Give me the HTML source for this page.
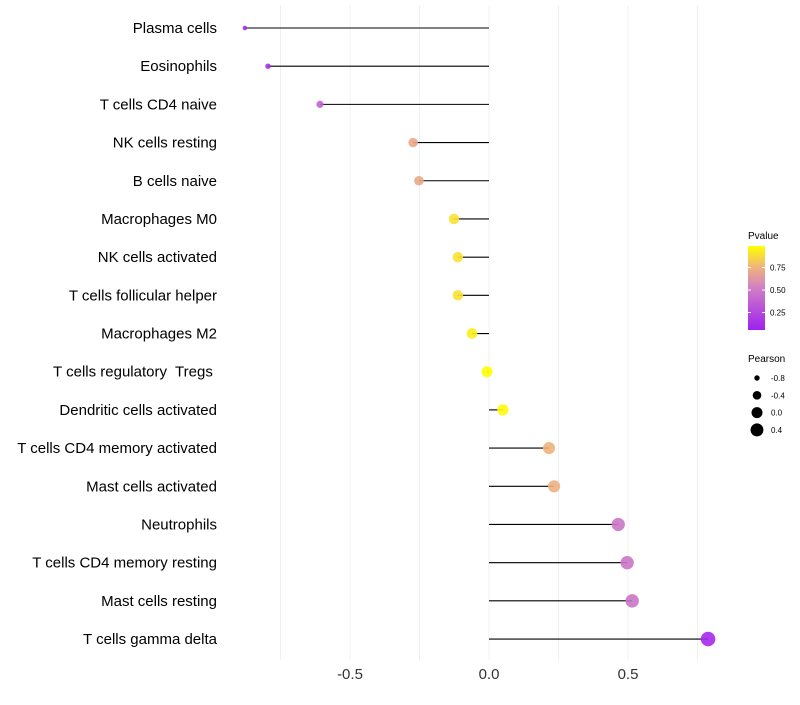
<!DOCTYPE html>
<html><head><meta charset="utf-8"><style>
body{margin:0;background:#fff;}
svg text{font-family:"Liberation Sans",sans-serif;white-space:pre;}
</style></head><body>
<svg id="chart" width="800" height="700" xmlns="http://www.w3.org/2000/svg">
<defs><linearGradient id="pg" x1="0" y1="1" x2="0" y2="0">
<stop offset="0" stop-color="#a020f0"/><stop offset="0.5" stop-color="#d07fc4"/><stop offset="0.75" stop-color="#f0b47c"/><stop offset="1" stop-color="#ffff00"/></linearGradient></defs>
<g id="grid"></g>
<g id="marks"></g>
<g id="ylabels"></g>
<g id="xlabels"></g>
<g>
<text x="748" y="239" font-size="10" fill="#000">Pvalue</text>
<rect x="748" y="246" width="17" height="84" fill="url(#pg)"/>
<g id="pticks"></g>
</g>
<g id="sizeleg">
<text x="748" y="362" font-size="10" fill="#000">Pearson</text>
</g>
</svg>
<script>
const categories=["Plasma cells","Eosinophils","T cells CD4 naive","NK cells resting","B cells naive","Macrophages M0","NK cells activated","T cells follicular helper","Macrophages M2","T cells regulatory  Tregs ","Dendritic cells activated","T cells CD4 memory activated","Mast cells activated","Neutrophils","T cells CD4 memory resting","Mast cells resting","T cells gamma delta"];
const pearson=[-0.878,-0.795,-0.608,-0.273,-0.252,-0.126,-0.112,-0.112,-0.061,-0.007,0.05,0.216,0.234,0.465,0.497,0.515,0.788];
const pvalues=[0.05,0.08,0.35,0.7,0.7,0.9,0.9,0.9,0.95,1.0,0.98,0.75,0.73,0.45,0.45,0.45,0.05];
const xTicks=[-0.5,0.0,0.5];
const xGrid=[-0.75,-0.5,-0.25,0,0.25,0.5,0.75];
const pTicks=[0.25,0.5,0.75];
const sizeLegend=[-0.8,-0.4,0.0,0.4];
const NS="http://www.w3.org/2000/svg";
const x=v=>489+v*278;
const y=i=>28+i*38.19;
const r=v=>Math.sqrt(5+(v+0.88)/1.67*48);
const stops=[[0,[160,32,240]],[0.5,[208,127,196]],[0.75,[240,180,124]],[1,[255,255,0]]];
function col(p){for(let k=1;k<stops.length;k++){if(p<=stops[k][0]){const a=stops[k-1],b=stops[k];const t=(p-a[0])/(b[0]-a[0]);return "rgb("+a[1].map((c,j)=>Math.round(c+(b[1][j]-c)*t)).join(",")+")";}}return "rgb(255,255,0)";}
function mk(t,at,parent){const e=document.createElementNS(NS,t);for(const k in at)e.setAttribute(k,at[k]);parent.appendChild(e);return e;}
const grid=document.getElementById('grid'),marks=document.getElementById('marks'),yl=document.getElementById('ylabels'),xl=document.getElementById('xlabels');
xGrid.forEach(g=>{const l=mk('line',{x1:x(g),x2:x(g),y1:5,y2:660,stroke:'#f0f0f0','stroke-width':1},grid);

});
categories.forEach((c,i)=>{
const ln=mk('line',{x1:x(0),x2:x(pearson[i]),y1:y(i),y2:y(i),stroke:'#000','stroke-width':1.1},marks);


const pt=mk('circle',{cx:x(pearson[i]),cy:y(i),r:r(pearson[i]),fill:col(pvalues[i]),'fill-opacity':0.9},marks);


const t=mk('text',{x:217,y:y(i)+5,'text-anchor':'end','font-size':15,fill:'#000'},yl);t.textContent=c;

});
xTicks.forEach(v=>{const t=mk('text',{x:x(v),y:679,'text-anchor':'middle','font-size':15,fill:'#333'},xl);t.textContent=v.toFixed(1);

});
const pt=document.getElementById('pticks');
pTicks.forEach(p=>{const yy=335-p*90;
mk('line',{x1:748,x2:751,y1:yy,y2:yy,stroke:'#fff'},pt);mk('line',{x1:762,x2:765,y1:yy,y2:yy,stroke:'#fff'},pt);
const t=mk('text',{x:770,y:yy+3,'font-size':8,fill:'#000'},pt);t.textContent=p.toFixed(2);

});
const sl=document.getElementById('sizeleg');
sizeLegend.forEach((v,i)=>{const yy=378+i*17.3;
const c=mk('circle',{cx:757,cy:yy,r:r(v),fill:'#000'},sl);


const t=mk('text',{x:771,y:yy+3,'font-size':8,fill:'#000'},sl);t.textContent=v.toFixed(1);

});
</script>
</body></html>
